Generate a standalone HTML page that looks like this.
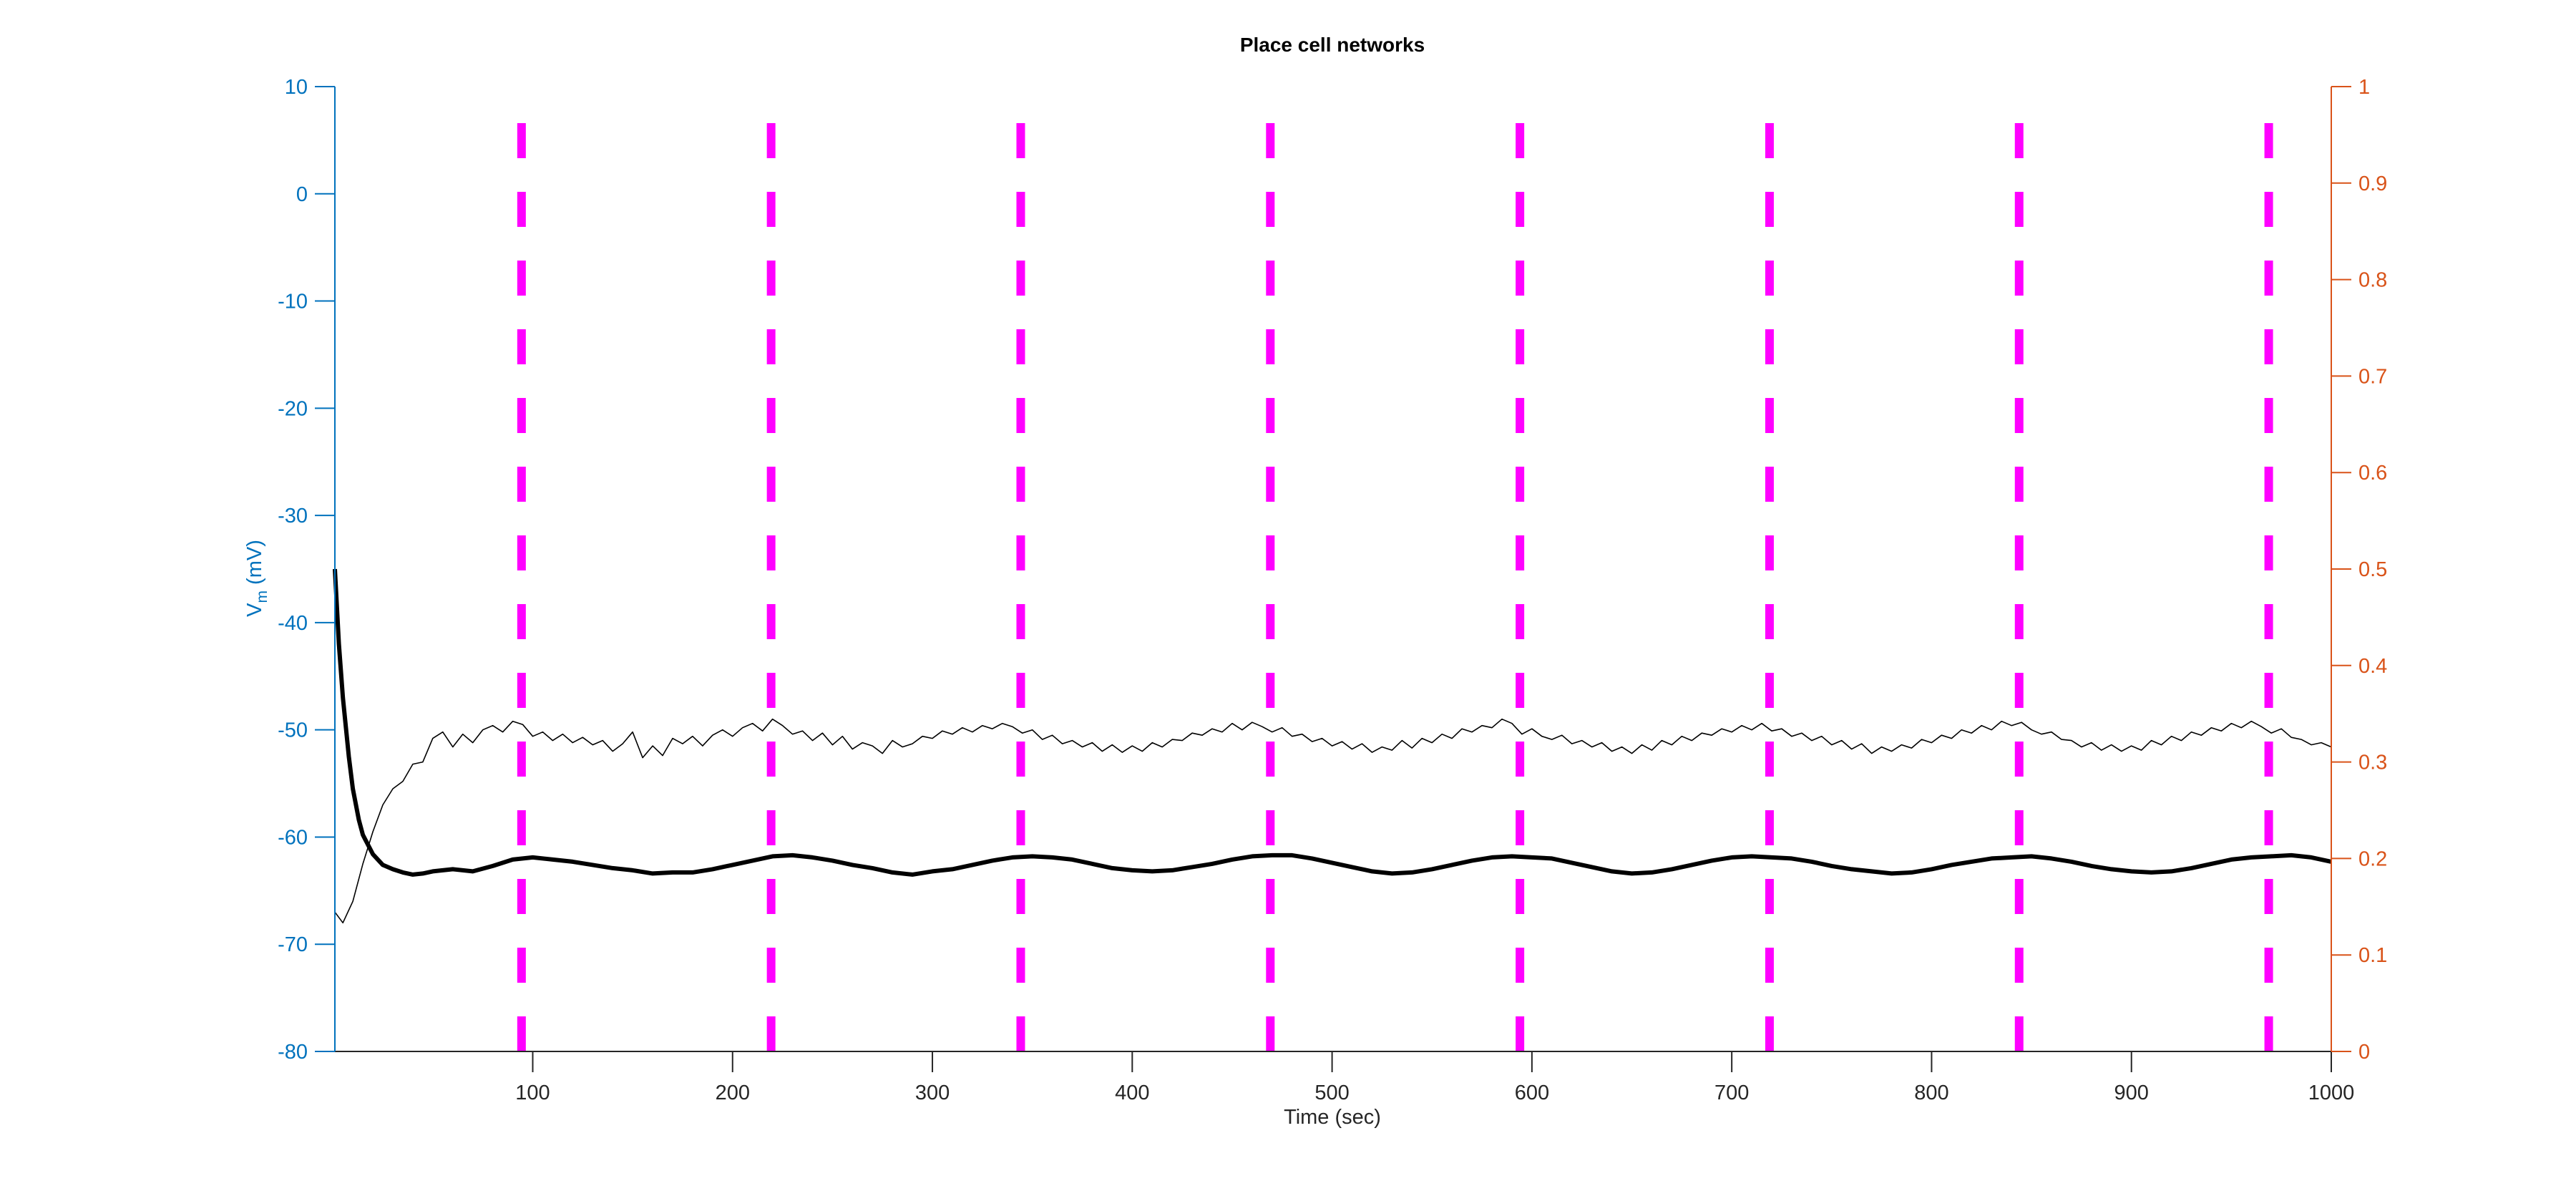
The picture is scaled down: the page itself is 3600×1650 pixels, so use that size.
<!DOCTYPE html>
<html><head><meta charset="utf-8"><style>
html,body{margin:0;padding:0;background:#fff;}
svg{display:block;font-family:"Liberation Sans",Arial,sans-serif;}
</style></head><body>
<svg id="chart" width="3600" height="1650" viewBox="0 0 3600 1650" xmlns="http://www.w3.org/2000/svg">
<rect width="3600" height="1650" fill="#fff"/>
<text x="1862" y="72" text-anchor="middle" font-size="28" font-weight="bold" fill="#000">Place cell networks</text>
<g id="marks"></g>
<g id="axes"></g>
<text x="1862" y="1570" text-anchor="middle" font-size="29" fill="#262626">Time (sec)</text>
<text transform="translate(365,808) rotate(-90)" text-anchor="middle" font-size="29" fill="#0072BD">V<tspan font-size="21" dy="8">m</tspan><tspan dy="-8"> (mV)</tspan></text>
</svg>
<script>
const xTicks=[100,200,300,400,500,600,700,800,900,1000];
const yLeftTicks=[10,0,-10,-20,-30,-40,-50,-60,-70,-80];
const yRightTicks=[0,0.1,0.2,0.3,0.4,0.5,0.6,0.7,0.8,0.9,1];
const yRightLabels=["0","0.1","0.2","0.3","0.4","0.5","0.6","0.7","0.8","0.9","1"];
const eventTimes=[94.4,219.3,344.2,469.1,594,718.9,843.8,968.7];
const thinStep=5;
const thinValues=[-67.0,-68.0,-66.0,-62.5,-59.5,-57.0,-55.5,-54.8,-53.2,-53.0,-50.8,-50.2,-51.6,-50.4,-51.2,-50.0,-49.6,-50.2,-49.2,-49.5,
-50.6,-50.2,-51.0,-50.4,-51.2,-50.7,-51.4,-51.0,-52.0,-51.3,-50.2,-52.6,-51.5,-52.4,-50.8,-51.3,-50.6,-51.5,-50.5,-50.0,
-50.6,-49.8,-49.4,-50.1,-49.0,-49.6,-50.4,-50.1,-51.0,-50.3,-51.4,-50.6,-51.8,-51.2,-51.5,-52.2,-51.0,-51.6,-51.3,-50.6,
-50.8,-50.1,-50.4,-49.8,-50.2,-49.6,-49.9,-49.4,-49.7,-50.3,-50.0,-50.9,-50.5,-51.3,-51.0,-51.6,-51.2,-52.0,-51.4,-52.1,
-51.5,-52.0,-51.2,-51.6,-50.9,-51.0,-50.3,-50.5,-49.9,-50.2,-49.4,-50.0,-49.3,-49.7,-50.2,-49.8,-50.6,-50.4,-51.1,-50.8,
-51.5,-51.1,-51.8,-51.3,-52.1,-51.6,-51.9,-51.0,-51.7,-50.8,-51.2,-50.4,-50.8,-49.9,-50.2,-49.6,-49.8,-49.0,-49.4,-50.4,
-49.9,-50.6,-50.9,-50.5,-51.3,-51.0,-51.6,-51.2,-52.0,-51.6,-52.2,-51.4,-51.9,-51.0,-51.4,-50.6,-51.0,-50.3,-50.5,-49.9,
-50.2,-49.6,-50.0,-49.4,-50.1,-49.9,-50.6,-50.3,-51.0,-50.6,-51.4,-51.0,-51.8,-51.3,-52.2,-51.6,-52.0,-51.4,-51.7,-50.9,
-51.2,-50.5,-50.8,-50.0,-50.3,-49.6,-50.0,-49.2,-49.6,-49.3,-50.0,-50.4,-50.2,-50.9,-51.0,-51.6,-51.2,-51.9,-51.4,-52.0,
-51.5,-51.9,-51.0,-51.4,-50.6,-51.0,-50.2,-50.5,-49.8,-50.1,-49.4,-49.8,-49.2,-49.7,-50.3,-49.9,-50.7,-50.9,-51.4,-51.2,-51.6];
const thickTimes=[1,3,5,8,10,13,15,20,25,30,35,40,45,50,60,70,80,90,100,110,120,130,140,150,160,170,180,190,200,210,220,230,240,250,260,270,280,290,300,310,320,330,340,350,360,370,380,390,400,410,420,430,440,450,460,470,480,490,500,510,520,530,540,550,560,570,580,590,600,610,620,630,640,650,660,670,680,690,700,710,720,730,740,750,760,770,780,790,800,810,820,830,840,850,860,870,880,890,900,910,920,930,940,950,960,970,980,990,1000];
const thickValues=[-35,-42,-47,-52.5,-55.5,-58.4,-59.8,-61.6,-62.6,-63.0,-63.3,-63.5,-63.4,-63.2,-63.0,-63.2,-62.7,-62.1,-61.9,-62.1,-62.3,-62.6,-62.9,-63.1,-63.4,-63.3,-63.3,-63.0,-62.6,-62.2,-61.8,-61.7,-61.9,-62.2,-62.6,-62.9,-63.3,-63.5,-63.2,-63.0,-62.6,-62.2,-61.9,-61.8,-61.9,-62.1,-62.5,-62.9,-63.1,-63.2,-63.1,-62.8,-62.5,-62.1,-61.8,-61.7,-61.7,-62.0,-62.4,-62.8,-63.2,-63.4,-63.3,-63.0,-62.6,-62.2,-61.9,-61.8,-61.9,-62.0,-62.4,-62.8,-63.2,-63.4,-63.3,-63.0,-62.6,-62.2,-61.9,-61.8,-61.9,-62.0,-62.3,-62.7,-63.0,-63.2,-63.4,-63.3,-63.0,-62.6,-62.3,-62.0,-61.9,-61.8,-62.0,-62.3,-62.7,-63.0,-63.2,-63.3,-63.2,-62.9,-62.5,-62.1,-61.9,-61.8,-61.7,-61.9,-62.3];

const NS='http://www.w3.org/2000/svg';
const L=468,R=3258,T=121,B=1469;
function xs(t){return L+(t-1)/999*(R-L);}
function yl(v){return B-(v+80)/90*(B-T);}
function yr(v){return B-v*(B-T);}
function mk(tag,attrs,parent){const e=document.createElementNS(NS,tag);for(const k in attrs)e.setAttribute(k,attrs[k]);parent.appendChild(e);return e;}
const marks=document.getElementById('marks'),axes=document.getElementById('axes');

eventTimes.forEach((t,i)=>{
  const ln=mk('line',{x1:xs(t),x2:xs(t),y1:B,y2:172,stroke:'#FF00FF','stroke-width':12,'stroke-dasharray':'49 47'},marks);
  
  
});
let d='';
thinValues.forEach((v,i)=>{const t=Math.max(1,i*thinStep);d+=(i?'L':'M')+xs(t).toFixed(1)+','+yl(v).toFixed(1);});
const thin=mk('path',{d:d,fill:'none',stroke:'#000','stroke-width':1.6,'stroke-linejoin':'round'},marks);


d='';
thickValues.forEach((v,i)=>{d+=(i?'L':'M')+xs(thickTimes[i]).toFixed(1)+','+yl(v).toFixed(1);});
const thick=mk('path',{d:d,fill:'none',stroke:'#000','stroke-width':6,'stroke-linejoin':'round'},marks);



const xa=mk('line',{x1:L,x2:R,y1:B,y2:B,stroke:'#262626','stroke-width':2},axes);


const la=mk('line',{x1:L,x2:L,y1:T,y2:B,stroke:'#0072BD','stroke-width':2},axes);


const ra=mk('line',{x1:R,x2:R,y1:T,y2:B,stroke:'#D95319','stroke-width':2},axes);


xTicks.forEach(t=>{
  mk('line',{x1:xs(t),x2:xs(t),y1:B,y2:B+29,stroke:'#262626','stroke-width':2},axes);
  const tx=mk('text',{x:xs(t),y:B+67,'text-anchor':'middle','font-size':29,fill:'#262626'},axes);
  tx.textContent=t;
  
  
});
yLeftTicks.forEach(v=>{
  mk('line',{x1:L-28,x2:L,y1:yl(v),y2:yl(v),stroke:'#0072BD','stroke-width':2},axes);
  const tx=mk('text',{x:L-38,y:yl(v)+10,'text-anchor':'end','font-size':29,fill:'#0072BD'},axes);
  tx.textContent=v;
  
  
});
yRightTicks.forEach((v,i)=>{
  mk('line',{x1:R,x2:R+28,y1:yr(v),y2:yr(v),stroke:'#D95319','stroke-width':2},axes);
  const tx=mk('text',{x:R+38,y:yr(v)+10,'text-anchor':'start','font-size':29,fill:'#D95319'},axes);
  tx.textContent=yRightLabels[i];
  
  
});
</script>
</body></html>
